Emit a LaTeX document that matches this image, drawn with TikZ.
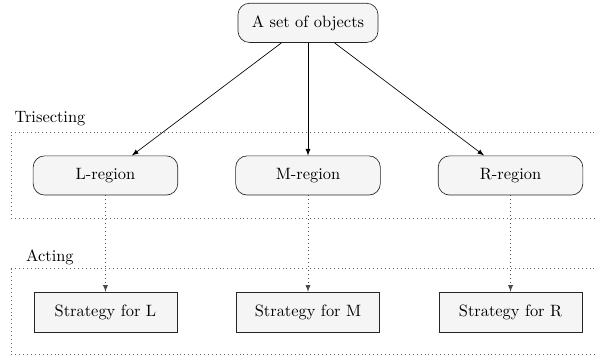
\documentclass[tikz,border=0pt]{standalone}
\usepackage{amsmath}
\usepackage{tikz}

\begin{document}
\begin{tikzpicture}[>=latex,
    region/.style={draw=black!85,fill=black!4,rounded corners=7pt,minimum width=3.1cm,minimum height=0.84cm},
    strat/.style={draw=black!85,fill=black!4,minimum width=3.06cm,minimum height=0.86cm},
    layer/.style={draw=black!60,dotted}]
        \useasboundingbox (0,0) rectangle (12.75,-7.63);
        \draw[layer] (12.9,-2.83)--(0.236,-2.83)--(0.236,-4.67)--(12.9,-4.67);
        \draw[layer] (12.9,-5.76)--(0.236,-5.76)--(0.236,-7.6)--(12.9,-7.6);
        \node (trisect) at (1.07,-2.55) {Trisecting};
        \node (act) at (1.07,-5.51) {Acting};
        \node[region,minimum width=3cm] (set) at (6.6,-0.49) {A set of objects};
        \node[region] (L) at (2.26,-3.76) {L-region};
        \node[region] (M) at (6.6,-3.76) {M-region};
        \node[region] (R) at (10.94,-3.76) {R-region};
        \node[strat] (sL) at (2.26,-6.69) {Strategy for L};
        \node[strat] (sM) at (6.6,-6.69) {Strategy for M};
        \node[strat] (sR) at (10.94,-6.69) {Strategy for R};
        \draw[->] (set)--(L);
        \draw[->] (set)--(M);
        \draw[->] (set)--(R);
        \draw[->,dotted,black!70] (L)--(sL);
        \draw[->,dotted,black!70] (M)--(sM);
        \draw[->,dotted,black!70] (R)--(sR);
    \end{tikzpicture}
\end{document}
